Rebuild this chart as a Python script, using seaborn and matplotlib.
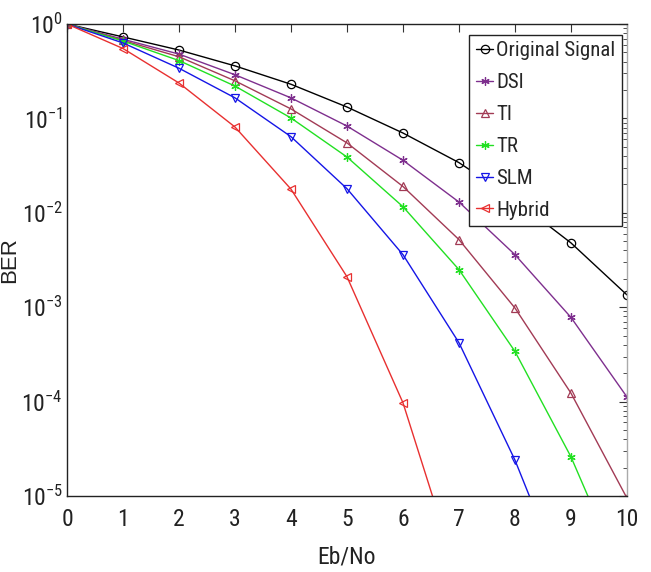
import numpy as np
import pandas as pd
import matplotlib
matplotlib.use("Agg")
import matplotlib.pyplot as plt
import seaborn as sns
from matplotlib.ticker import LogLocator, NullFormatter

# ---- data ----
ebno = [0, 1, 2, 3, 4, 5, 6, 7, 8, 9, 10]
ber_original = [1.0, 0.73, 0.53, 0.36, 0.23, 0.132, 0.070, 0.034, 0.0137, 0.0048, 0.00135]
ber_dsi = [1.0, 0.69, 0.48, 0.29, 0.165, 0.083, 0.036, 0.013, 0.0036, 0.00078, 0.000112]
ber_ti = [1.0, 0.67, 0.45, 0.25, 0.126, 0.055, 0.019, 0.0052, 0.00098, 0.000123, 9.5e-6]
ber_tr = [1.0, 0.66, 0.41, 0.22, 0.101, 0.039, 0.0116, 0.0025, 0.00034, 2.6e-5, 1.1e-6]
ber_slm = [1.0, 0.63, 0.34, 0.165, 0.064, 0.018, 0.0036, 0.00042, 2.4e-5, 8e-7, 3e-8]
ber_hybrid = [1.0, 0.55, 0.237, 0.081, 0.0178, 0.0021, 9.7e-5, 1.3e-6, 1e-8, 1e-10, 1e-12]

series_names = ["Original Signal", "DSI", "TI", "TR", "SLM", "Hybrid"]
series_values = [ber_original, ber_dsi, ber_ti, ber_tr, ber_slm, ber_hybrid]
series_colors = ["#000000", "#7E2F8E", "#A23B55", "#22E022", "#1515E6", "#E83030"]
series_markers = ["o", (6, 2, 0), "^", (6, 2, 0), "v", "<"]

sns.set_style("white")
plt.rcParams['font.family'] = ['Roboto Condensed', 'Roboto', 'DejaVu Sans']
plt.rcParams['mathtext.fontset'] = 'custom'
plt.rcParams['mathtext.rm'] = 'Roboto Condensed'
plt.rcParams['mathtext.it'] = 'Roboto Condensed'

fig = plt.figure(figsize=(6.51, 5.72), dpi=100)
ax = fig.add_axes([0.103, 0.133, 0.860, 0.825])

for name, vals, col, mk in zip(series_names, series_values, series_colors, series_markers):
    df = pd.DataFrame({"Eb/No": ebno, "BER": vals})
    sns.lineplot(data=df, x="Eb/No", y="BER", ax=ax, color=col, marker=mk,
                 markersize=6, markerfacecolor="none",
                 markeredgecolor=col, markeredgewidth=0.9, linewidth=1.0,
                 label=name)

ax.set_yscale("log")
ax.set_xlim(0, 10)
ax.set_ylim(1e-5, 1)
ax.set_xticks(range(0, 11))
ax.set_yticks([1e-5, 1e-4, 1e-3, 1e-2, 1e-1, 1])
ax.yaxis.set_minor_locator(LogLocator(base=10, subs=np.arange(2, 10)))
ax.yaxis.set_minor_formatter(NullFormatter())
ax.tick_params(axis="both", which="both", direction="in", top=True, right=True,
               labelsize=17, colors="#333333", labelcolor="#222222")
ax.tick_params(axis="both", which="major", length=6)
ax.tick_params(axis="y", which="minor", length=3)
ax.tick_params(axis="x", pad=9)
ax.tick_params(axis="y", pad=3)

for sp in ax.spines.values():
    sp.set_color("#222222")
    sp.set_linewidth(1.0)
ax.spines["right"].set_color("#AAAAAA")

ax.set_xlabel("Eb/No", fontsize=17, color="#222222", labelpad=10)
ax.set_ylabel("BER", fontsize=16, color="#222222", family=["Liberation Sans", "DejaVu Sans"])
ax.yaxis.set_label_coords(-0.084, 0.5)

leg = ax.legend(loc="upper right", bbox_to_anchor=(0.991, 0.977), fontsize=15,
                frameon=True, fancybox=False, edgecolor="#222222", framealpha=1,
                handlelength=0.85, handletextpad=0.15, borderpad=0.3,
                labelspacing=0.62, borderaxespad=0)
leg.get_frame().set_linewidth(1.0)

fig.savefig("out.png", dpi=100)
